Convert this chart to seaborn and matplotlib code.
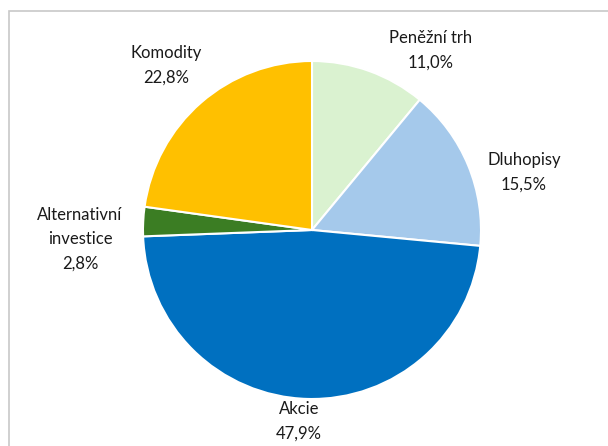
"""
Pie chart - portfolio allocation (Czech labels)
"""
import matplotlib
matplotlib.use("Agg")
import matplotlib.pyplot as plt
from matplotlib.patches import Rectangle
import seaborn as sns
import numpy as np

# Data
categories = ["Peněžní trh", "Dluhopisy", "Akcie", "Alternativní\ninvestice", "Komodity"]
shares = [11.0, 15.5, 47.9, 2.8, 22.8]
colors = ["#DAF2D0", "#A5C9EB", "#0070C0", "#3B7D23", "#FFC000"]

# label anchor points in pixel coords (from top-left)
label_pos = [(431, 50), (524, 172), (299, 421), (80, 239), (166, 65)]

sns.set_theme(style="white")
plt.rcParams["font.family"] = ["Lato", "DejaVu Sans"]

W, H = 608, 446
fig = plt.figure(figsize=(W / 100, H / 100), dpi=100)
ax = fig.add_axes([0, 0, 1, 1])

cx, cy, r = 312, H - 230, 169
ax.pie(
    shares,
    colors=colors,
    startangle=90,
    counterclock=False,
    center=(cx, cy),
    radius=r,
    frame=True,
    wedgeprops=dict(edgecolor="white", linewidth=1.5),
)
ax.set_xlim(0, W)
ax.set_ylim(0, H)
ax.set_aspect("equal")
ax.axis("off")

for name, val, (px, py) in zip(categories, shares, label_pos):
    txt = f"{name}\n{val:.1f}%".replace(".", ",")
    ax.text(px, H - py, txt, ha="center", va="center", fontsize=12,
            color="#1a1a1a", linespacing=1.65)

# chart frame
fig.patches.append(Rectangle((9 / W, -0.05), 1.1, (H - 11) / H + 0.05,
                             transform=fig.transFigure, fill=False,
                             edgecolor="#C8C8C8", linewidth=1.2))

plt.savefig("out.png", dpi=100)
plt.close("all")
